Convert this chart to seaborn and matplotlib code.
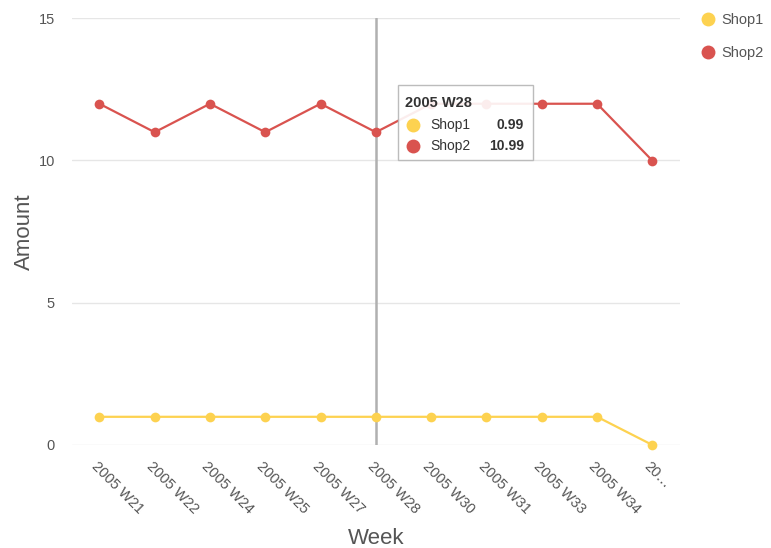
import matplotlib
matplotlib.use("Agg")
import matplotlib.pyplot as plt
import matplotlib.transforms as mtransforms
from matplotlib.patches import FancyBboxPatch
from matplotlib.lines import Line2D
import seaborn as sns
import pandas as pd

weeks = ["2005 W21", "2005 W22", "2005 W24", "2005 W25", "2005 W27", "2005 W28",
         "2005 W30", "2005 W31", "2005 W33", "2005 W34", "2005 W35"]
shop1 = [0.99, 0.99, 0.99, 0.99, 0.99, 0.99, 0.99, 0.99, 0.99, 0.99, 0.0]
shop2 = [11.99, 10.99, 11.99, 10.99, 11.99, 10.99, 11.99, 11.99, 11.99, 11.99, 9.99]
series = ["Shop1", "Shop2"]
colors = {"Shop1": "#fdd250", "Shop2": "#d9534f"}
hover_index = 5

df = pd.concat([
    pd.DataFrame({"Week": weeks, "Amount": shop1, "Shop": "Shop1"}),
    pd.DataFrame({"Week": weeks, "Amount": shop2, "Shop": "Shop2"}),
])

sns.set_theme(style="white")
plt.rcParams["font.family"] = ["Liberation Sans", "DejaVu Sans"]
text_col = "#555555"

fig = plt.figure(figsize=(7.71, 5.48), dpi=100)
ax = fig.add_axes([0.093, 0.188, 0.789, 0.779])

sns.lineplot(data=df, x="Week", y="Amount", hue="Shop", palette=colors,
             marker="o", markersize=7, markeredgewidth=0, linewidth=1.6,
             sort=False, legend=False, ax=ax, clip_on=False, zorder=3)

ax.set_ylim(0, 15)
ax.set_xlim(-0.5, len(weeks) - 0.5)
ax.set_yticks([0, 5, 10, 15])
ax.yaxis.grid(True, color="#e6e6e6", linewidth=1)
ax.xaxis.grid(False)
for s in ax.spines.values():
    s.set_visible(False)
ax.tick_params(axis="both", length=0, colors=text_col, labelsize=10.5)
ax.tick_params(axis="y", pad=12)

tick_labels = weeks[:-1] + [weeks[-1][:2] + "…"]
ax.set_xticks(range(len(weeks)))
ax.set_xticklabels(tick_labels, rotation=-45, ha="left", va="center",
                   rotation_mode="anchor", color=text_col, fontsize=10.5)
ax.tick_params(axis="x", pad=14)
shift = mtransforms.ScaledTranslation(-0.06, 0, fig.dpi_scale_trans)
for lbl in ax.get_xticklabels():
    lbl.set_transform(lbl.get_transform() + shift)

ax.set_xlabel("Week", fontsize=16, color=text_col, labelpad=8)
ax.set_ylabel("Amount", fontsize=16, color=text_col, labelpad=3)

# hover crosshair
ax.axvline(hover_index, color="#b0b0b0", linewidth=1.8, zorder=2)

# legend
handles = [Line2D([0], [0], marker="o", linestyle="none", markersize=10,
                  markerfacecolor=colors[s], markeredgewidth=0) for s in series]
fig.legend(handles, series, loc="upper left", bbox_to_anchor=(0.89, 1.0),
           frameon=False, fontsize=10.5, labelcolor=text_col, handletextpad=0.3,
           labelspacing=1.3, handlelength=1.2)

# tooltip
W, H = 771, 548
box = FancyBboxPatch((398 / W, 1 - 160 / H), 135 / W, 75 / H,
                     boxstyle="square,pad=0", transform=fig.transFigure,
                     facecolor="white", edgecolor="#b5b5b5", linewidth=1,
                     alpha=0.9, zorder=10)
fig.patches.append(box)
fig.text(405 / W, 1 - 103 / H, weeks[hover_index], fontsize=10.5, fontweight="bold",
         color="#333333", va="center", ha="left", zorder=11)
for i, (name, vals) in enumerate(zip(series, [shop1, shop2])):
    y = 1 - (125 + 21 * i) / H
    fig.add_artist(Line2D([413 / W], [y], marker="o", markersize=10,
                          markerfacecolor=colors[name], markeredgewidth=0,
                          transform=fig.transFigure, zorder=11))
    fig.text(430 / W, y, name, fontsize=10, color="#333333", va="center",
             ha="left", zorder=11)
    fig.text(524 / W, y, f"{vals[hover_index]:.2f}", fontsize=10,
             fontweight="bold", color="#333333", va="center", ha="right", zorder=11)

fig.savefig("out.png", dpi=100)
